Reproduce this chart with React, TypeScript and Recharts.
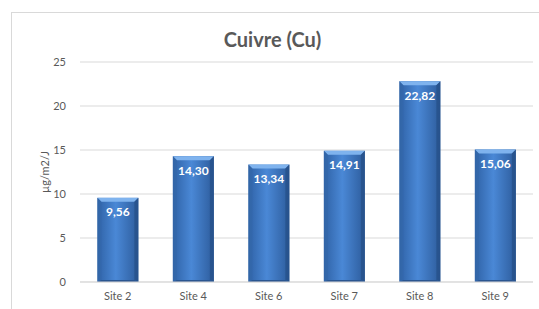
import { Bar, BarChart, CartesianGrid, LabelList, XAxis, YAxis } from "recharts";

const sites = ["Site 2", "Site 4", "Site 6", "Site 7", "Site 8", "Site 9"];
const copper = [9.56, 14.3, 13.34, 14.91, 22.82, 15.06];
const yTicks = [0, 5, 10, 15, 20, 25];

const data = sites.map((site, i) => ({ site, value: copper[i] }));

const font = "Lato, 'Open Sans', sans-serif";

// bar with a soft bevel, like the office "3D" preset
function BevelBar(props: any) {
  const { x, y, width, height } = props;
  if (!height || height <= 0) return null;
  const b = 4;
  const bb = 2;
  return (
    <g>
      <rect x={x} y={y} width={width} height={height} fill="url(#barBody)" />
      <polygon
        points={`${x},${y} ${x + width},${y} ${x + width - b},${y + b} ${x + b},${y + b}`}
        fill="#7fb3ee"
      />
      <polygon
        points={`${x},${y} ${x + b},${y + b} ${x + b},${y + height - bb} ${x},${y + height}`}
        fill="#3467a8"
        opacity={0.6}
      />
      <polygon
        points={`${x + width},${y} ${x + width - b},${y + b} ${x + width - b},${y + height - bb} ${x + width},${y + height}`}
        fill="#254e86"
        opacity={0.7}
      />
      <polygon
        points={`${x},${y + height} ${x + b},${y + height - bb} ${x + width - b},${y + height - bb} ${x + width},${y + height}`}
        fill="#2a5590"
      />
    </g>
  );
}

function ValueLabel(props: any) {
  const { x, y, width, value } = props;
  return (
    <text
      x={x + width / 2}
      y={y + 14}
      textAnchor="middle"
      dominantBaseline="central"
      fill="#ffffff"
      fontSize={12}
      fontWeight={700}
      fontFamily={font}
    >
      {Number(value).toFixed(2).replace(".", ",")}
    </text>
  );
}

export default function App() {
  return (
    <div
      style={{
        position: "absolute",
        left: 0,
        top: 0,
        width: 539,
        height: 309,
        overflow: "hidden",
        background: "#ffffff",
        fontFamily: font,
      }}
    >
      <div
        style={{
          position: "absolute",
          left: 11,
          top: 12,
          width: 600,
          height: 400,
          border: "1px solid #d9d9d9",
        }}
      />
      <div
        style={{
          position: "absolute",
          left: 0,
          top: 27,
          width: 545,
          textAlign: "center",
          fontSize: 20,
          fontWeight: 700,
          color: "#595959",
        }}
      >
        Cuivre (Cu)
      </div>
      <div style={{ position: "absolute", left: 0, top: 0 }}>
        <BarChart
          width={539}
          height={309}
          data={data}
          margin={{ top: 62, right: 6, bottom: 0, left: 0 }}
          barCategoryGap="23%"
        >
          <defs>
            <linearGradient id="barBody" x1="0" y1="0" x2="1" y2="0">
              <stop offset="0%" stopColor="#2f62a6" />
              <stop offset="45%" stopColor="#4a88d6" />
              <stop offset="100%" stopColor="#2d5c9c" />
            </linearGradient>
          </defs>
          <CartesianGrid vertical={false} stroke="#d9d9d9" />
          <XAxis
            dataKey="site"
            height={27}
            axisLine={{ stroke: "#d9d9d9" }}
            tickLine={false}
            tickMargin={4}
            tick={{ fill: "#595959", fontSize: 11, fontFamily: font }}
          />
          <YAxis
            width={80}
            domain={[0, 25]}
            ticks={yTicks}
            axisLine={false}
            tickLine={false}
            tickMargin={8}
            tick={{ fill: "#595959", fontSize: 11, fontFamily: font }}
            label={{
              value: "µg/m2/J",
              angle: -90,
              position: "center",
              dx: 5,
              fill: "#595959",
              fontSize: 11,
              fontFamily: font,
            }}
          />
          <Bar dataKey="value" shape={<BevelBar />} isAnimationActive={false}>
            <LabelList dataKey="value" content={<ValueLabel />} />
          </Bar>
        </BarChart>
      </div>
    </div>
  );
}
